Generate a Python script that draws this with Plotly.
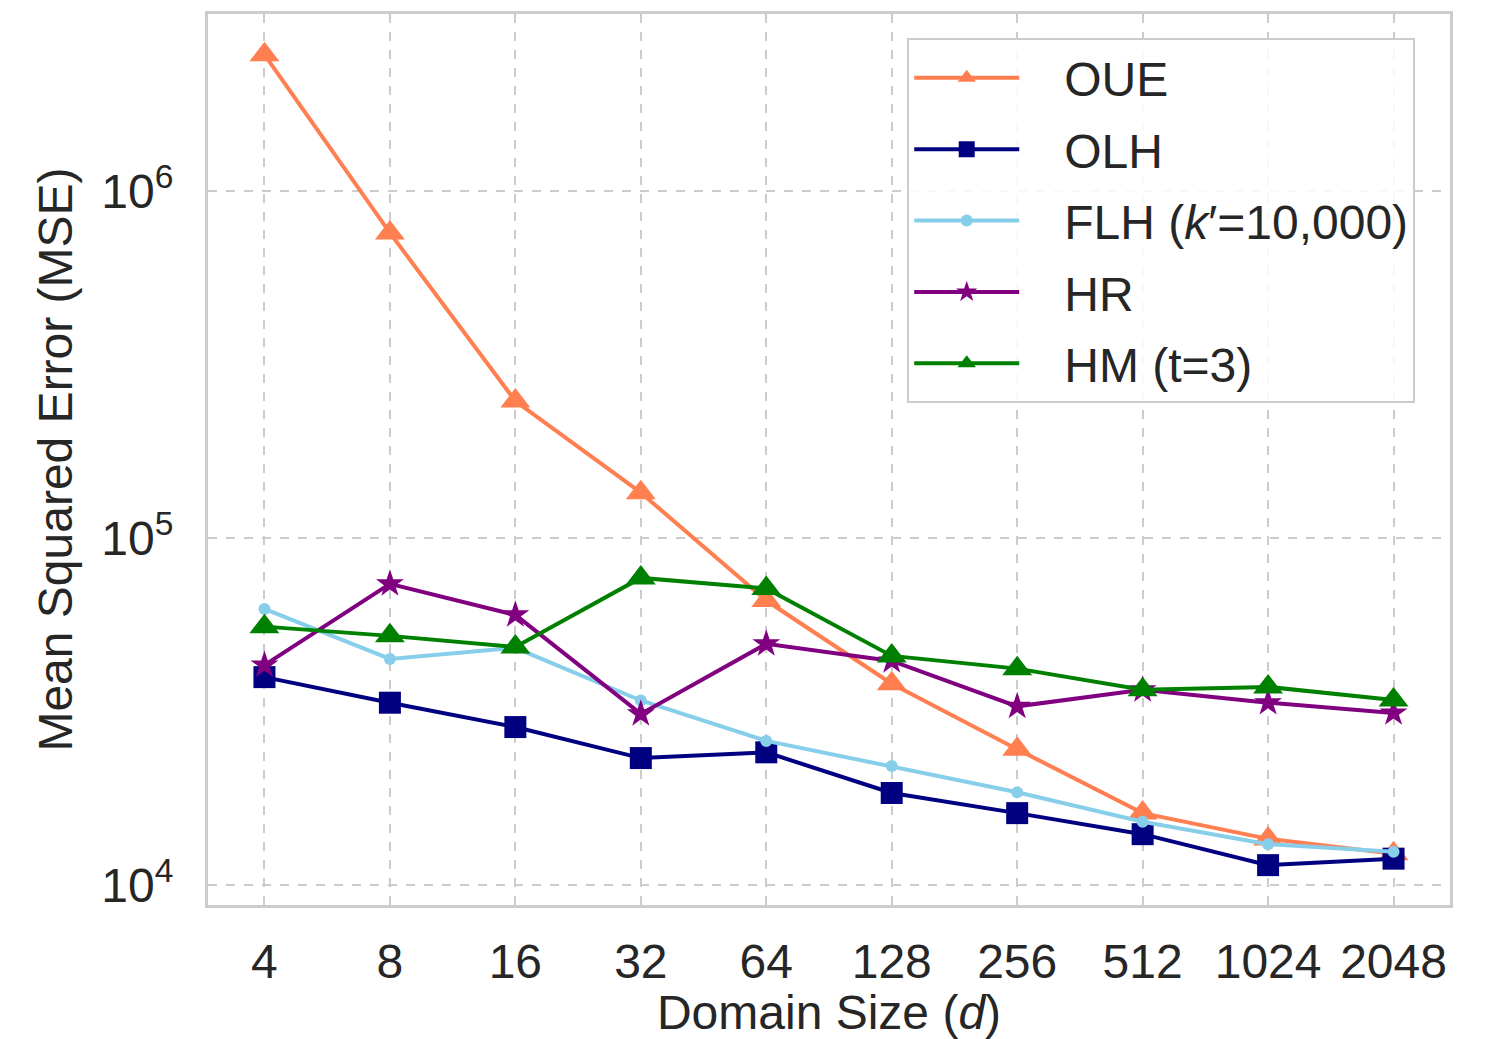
import plotly.graph_objects as go

domain_sizes = ["4", "8", "16", "32", "64", "128", "256", "512", "1024", "2048"]
oue = [2.47e6, 7.57e5, 2.48e5, 1.35e5, 6.6e4, 3.8e4, 2.46e4, 1.61e4, 1.357e4, 1.23e4]
olh = [3.97e4, 3.35e4, 2.85e4, 2.32e4, 2.41e4, 1.84e4, 1.61e4, 1.40e4, 1.14e4, 1.19e4]
flh = [6.24e4, 4.48e4, 4.82e4, 3.40e4, 2.60e4, 2.20e4, 1.85e4, 1.52e4, 1.31e4, 1.245e4]
hr = [4.30e4, 7.37e4, 6.0e4, 3.11e4, 4.95e4, 4.42e4, 3.27e4, 3.65e4, 3.35e4, 3.13e4]
hm = [5.55e4, 5.22e4, 4.85e4, 7.67e4, 7.15e4, 4.57e4, 4.20e4, 3.65e4, 3.72e4, 3.41e4]

y_tickvals = [1e4, 1e5, 1e6]
y_ticktext = ["10<sup>4</sup>", "10<sup>5</sup>", "10<sup>6</sup>"]

pad = "\u00a0\u00a0\u00a0"
series = [
    ("OUE", oue, "#FF7F50", "triangle-up", 26),
    ("OLH", olh, "#000080", "square", 22),
    ("FLH (<i>k</i>′=10,000)", flh, "#87CEEB", "circle", 12),
    ("HR", hr, "#800080", "star", 21),
    ("HM (t=3)", hm, "#008000", "triangle-up", 26),
]

fig = go.Figure()
for i, (name, vals, color, sym, size) in enumerate(series):
    fig.add_trace(go.Scatter(
        x=domain_sizes, y=vals, name=pad + name, mode="lines+markers",
        legendgroup=f"g{i}",
        line=dict(color=color, width=4),
        marker=dict(symbol=sym, size=size, color=color, line=dict(width=0)),
    ))

font_family = "Liberation Sans, Arial, sans-serif"
text_color = "#262626"
fs = 48

fig.update_layout(
    width=1488, height=1039,
    margin=dict(l=208, r=38, t=14, b=134),
    paper_bgcolor="white", plot_bgcolor="white",
    font=dict(family=font_family, size=fs, color=text_color),
    legend=dict(
        x=0.972, y=0.973, xanchor="right", yanchor="top",
        bgcolor="rgba(255,255,255,0.85)", bordercolor="#cccccc", borderwidth=2,
        font=dict(size=fs, color=text_color),
        tracegroupgap=6, itemwidth=105,
    ),
    xaxis=dict(
        type="category", range=[-0.45, 9.45],
        showgrid=True, gridcolor="#cccccc", gridwidth=2.2, griddash="dash",
        showline=True, mirror=True, linecolor="#cccccc", linewidth=3,
        ticks="outside", ticklen=12, tickcolor="rgba(0,0,0,0)",
        tickfont=dict(size=fs),
        title=dict(text="Domain Size (<i>d</i>)", font=dict(size=fs), standoff=4),
        zeroline=False,
    ),
    yaxis=dict(
        type="log", range=[3.942, 6.51],
        tickvals=y_tickvals, ticktext=y_ticktext,
        showgrid=True, gridcolor="#cccccc", gridwidth=2.2, griddash="dash",
        showline=True, mirror=True, linecolor="#cccccc", linewidth=3,
        ticks="outside", ticklen=22, tickcolor="rgba(0,0,0,0)",
        tickfont=dict(size=fs),
        title=dict(text="Mean Squared Error (MSE)", font=dict(size=fs), standoff=14),
        zeroline=False,
    ),
)

fig.write_html("out.html")
